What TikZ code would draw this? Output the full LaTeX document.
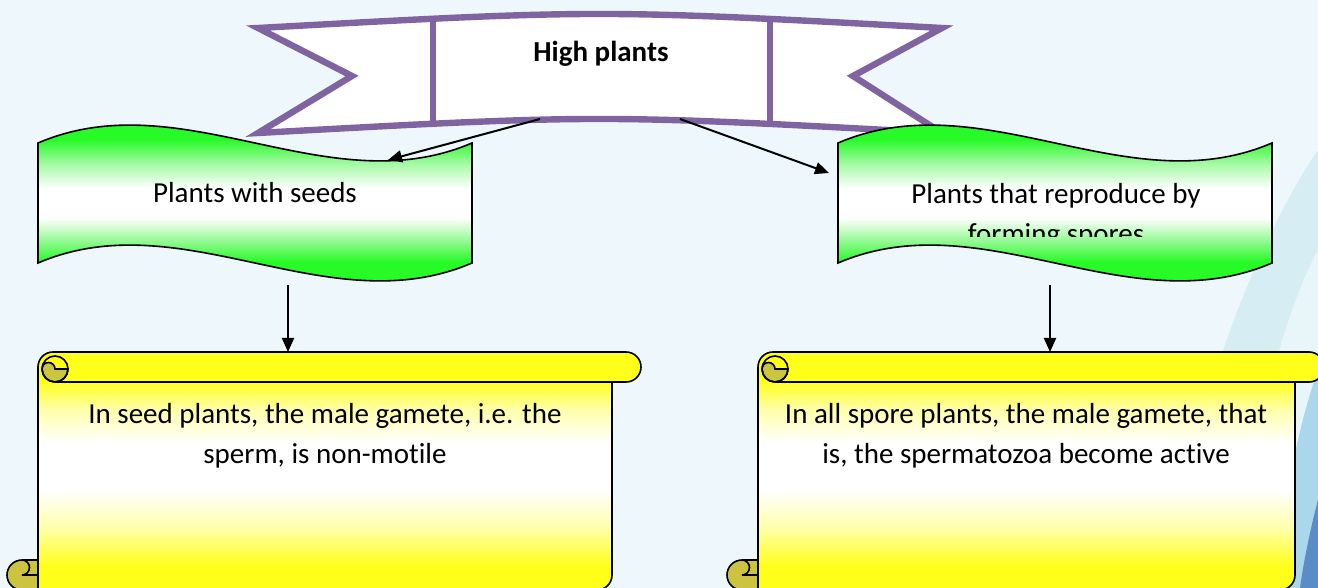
\documentclass[tikz,border=0pt]{standalone}
\usepackage{fontspec}
\setmainfont{Carlito}[Ligatures={NoCommon}]
\usetikzlibrary{arrows.meta}
\definecolor{bgc}{RGB}{238,248,252}
\definecolor{ribbon}{RGB}{128,100,162}
\definecolor{wgreen}{RGB}{40,250,40}
\definecolor{lgreen}{RGB}{165,250,165}
\definecolor{syellow}{RGB}{255,255,25}
\definecolor{lyellow}{RGB}{255,255,170}
\definecolor{curl}{RGB}{204,196,64}
\definecolor{swa}{RGB}{214,238,243}
\definecolor{swl}{RGB}{232,246,250}
\definecolor{swb}{RGB}{170,215,235}
\definecolor{swc}{RGB}{90,140,200}
\pgfdeclareverticalshading{greenwave}{100bp}{color(0bp)=(wgreen); color(38bp)=(wgreen); color(43bp)=(lgreen); color(47bp)=(white); color(53bp)=(white); color(58bp)=(lgreen); color(63bp)=(wgreen); color(100bp)=(wgreen)}
\pgfdeclareverticalshading{yellowscroll}{100bp}{color(0bp)=(syellow); color(30bp)=(syellow); color(38bp)=(lyellow); color(46bp)=(white); color(56bp)=(white); color(63bp)=(lyellow); color(69bp)=(syellow); color(100bp)=(syellow)}
\tikzset{
  conn/.style={line width=1pt, -{Triangle[length=7pt,width=6pt]}},
  wavebox/.style={draw=black, line width=0.8pt, shading=greenwave},
  scrollbody/.style={draw=black, line width=0.8pt, shading=yellowscroll},
  curlpart/.style={draw=black, line width=0.8pt, fill=curl},
  thinline/.style={draw=black, line width=0.8pt},
  lbl/.style={font=\fontsize{14.5}{20}\selectfont, align=center, inner sep=0pt},
  ribbonline/.style={draw=ribbon, line width=3.2pt, line join=miter},
}
\newcommand\wavepath[1]{(#1,143) .. controls ({#1+145},81) and ({#1+289},205) .. ({#1+434},143) -- ({#1+434},263) .. controls ({#1+289},325) and ({#1+145},201) .. (#1,263) -- cycle}
\newcommand\myscroll[4]{%
  \path[scrollbody] (#1,{#3+15}) arc[start angle=180,end angle=270,radius=15] -- ({#2+14},#3) arc[start angle=-90,end angle=90,radius=15] -- (#2,{#3+30}) -- (#2,{#4-15}) arc[start angle=0,end angle=90,radius=15] -- (#1,#4) -- cycle;
  \draw[thinline] ({#1+17},{#3+30}) -- (#2,{#3+30});
  \path[curlpart] ({#1+30},{#3+17}) arc[start angle=0,end angle=180,radius=13] arc[start angle=180,end angle=360,radius=6.5] -- cycle;
  \draw[thinline] ({#1+17},{#3+17}) circle[radius=13];
  \path[curlpart] (#1,{#4-30}) -- ({#1-16},{#4-30}) arc[start angle=270,end angle=90,radius=15] -- (#1,#4) -- cycle;
  \draw[thinline] ({#1-16},{#4-30}) arc[start angle=270,end angle=450,radius=7.5] -- (#1,{#4-15});
}
\newcommand\bannerpath{(258,28) .. controls (599,9.3) and (599,9.3) .. (942,28) -- (853,76) -- (942,133) .. controls (599,114.3) and (599,114.3) .. (258,133) -- (352,76) -- cycle}
\begin{document}
\begin{tikzpicture}[x=0.5pt,y=-0.5pt]
\useasboundingbox (0,0) rectangle (1318,588);
\clip (0,0) rectangle (1318,588);
\fill[bgc] (0,0) rectangle (1318,588);
% background swooshes
\fill[swa] (1318,150) .. controls (1250,250) and (1190,420) .. (1165,588) -- (1318,588) -- cycle;
\fill[swl] (1318,250) .. controls (1280,320) and (1250,450) .. (1235,588) -- (1318,588) -- cycle;
\fill[swb] (1318,370) .. controls (1300,420) and (1285,490) .. (1275,588) -- (1318,588) -- cycle;
\fill[swc] (1318,500) .. controls (1310,530) and (1303,565) .. (1300,588) -- (1318,588) -- cycle;

% banner
\fill[white] \bannerpath;
\begin{scope}
  \clip \bannerpath;
  \draw[ribbonline] (433,0) -- (433,140);
  \draw[ribbonline] (770,0) -- (770,140);
\end{scope}
\draw[ribbonline] \bannerpath;
\node[lbl, font=\fontsize{14.5}{20}\selectfont\bfseries] (title) at (601,54) {High plants};
\coordinate (titleL) at (540,119);
\coordinate (titleR) at (680,119);

% wave boxes
\path[wavebox] \wavepath{38};
\node[lbl] (seeds) at (255,193) {Plants with seeds};
\coordinate (seedsTop) at (388,160);
\coordinate (seedsBot) at (288,285);

\path[wavebox] \wavepath{838};
\begin{scope}
  \clip (838,100) rectangle (1272,237);
  \node[lbl, text depth=0pt] (spores) at (1056,213) {Plants that reproduce by\\forming spores};
\end{scope}
\coordinate (sporesLeft) at (829,173);
\coordinate (sporesBot) at (1050,285);

% scrolls
\myscroll{38}{612}{352}{590}
\node[lbl] (seedtext) at (325,436) {In seed plants, the male gamete, i.e. the\\sperm, is non-motile};
\coordinate (seedTop) at (288,352);

\myscroll{758}{1295}{352}{590}
\node[lbl] (sporetext) at (1026,436) {In all spore plants, the male gamete, that\\is, the spermatozoa become active};
\coordinate (sporeTop) at (1050,352);

% connectors
\draw[conn] (titleL) -- (seedsTop);
\draw[conn] (titleR) -- (sporesLeft);
\draw[conn] (seedsBot) -- (seedTop);
\draw[conn] (sporesBot) -- (sporeTop);
\end{tikzpicture}
\end{document}
